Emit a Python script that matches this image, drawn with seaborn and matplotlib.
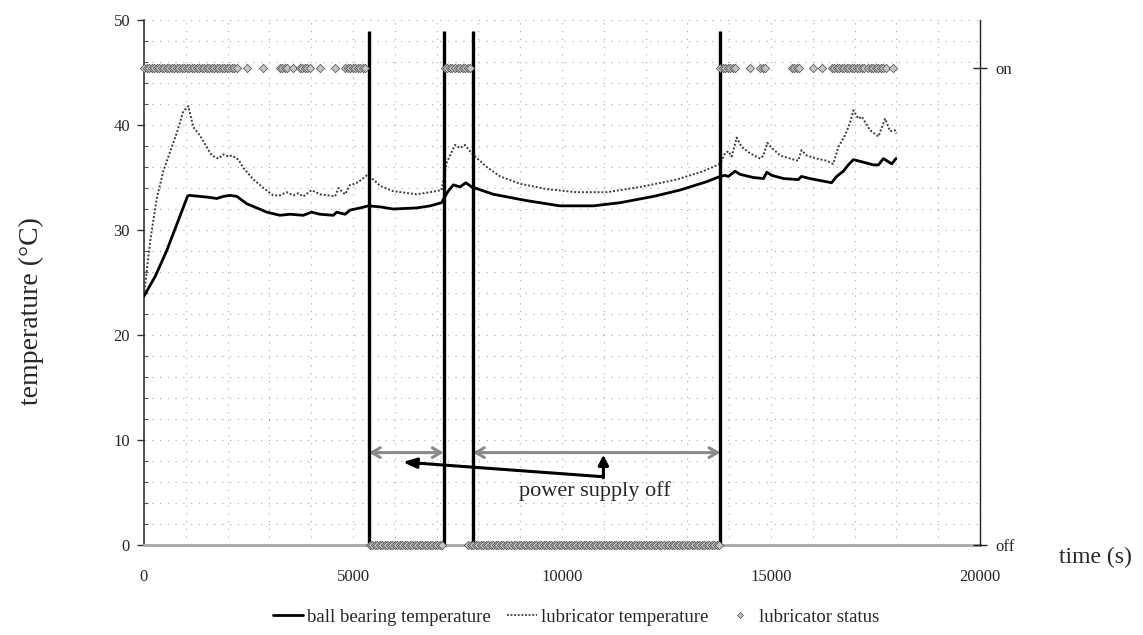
import numpy as np
import pandas as pd
import matplotlib
matplotlib.use("Agg")
import matplotlib.pyplot as plt
import seaborn as sns
from matplotlib.lines import Line2D

# ---------------- data ----------------
bb_time = [0, 270, 540, 800, 1040, 1080, 1340, 1580, 1740, 1900, 2060, 2220, 2460, 2700,
           2940, 3250, 3490, 3810, 4010, 4210, 4530, 4610, 4810, 4930, 5170, 5370, 5650,
           5960, 6520, 6850, 7120, 7260, 7400, 7560, 7700, 7840, 8360, 9150, 9950, 10750,
           11390, 12190, 12820, 13460, 13780, 13900, 13980, 14140, 14260, 14580, 14820,
           14900, 15020, 15300, 15650, 15730, 15930, 16450, 16570, 16730, 16850, 16970,
           17170, 17450, 17570, 17690, 17890, 17990]
bb_temp = [23.7, 25.6, 28.0, 30.7, 33.2, 33.3, 33.2, 33.1, 33.0, 33.2, 33.3, 33.2, 32.5, 32.1,
           31.7, 31.4, 31.5, 31.4, 31.7, 31.5, 31.4, 31.7, 31.5, 31.9, 32.1, 32.3, 32.2,
           32.0, 32.1, 32.3, 32.6, 33.6, 34.3, 34.1, 34.5, 34.1, 33.4, 32.8, 32.3, 32.3,
           32.6, 33.2, 33.8, 34.6, 35.1, 35.2, 35.1, 35.6, 35.3, 35.0, 34.9,
           35.5, 35.2, 34.9, 34.8, 35.1, 34.9, 34.5, 35.1, 35.6, 36.2, 36.7,
           36.5, 36.2, 36.2, 36.8, 36.3, 36.8]

lub_time = [0, 150, 300, 460, 780, 940, 1060, 1180, 1340, 1500, 1620, 1780, 1900, 2020,
            2100, 2260, 2380, 2620, 2860, 3090, 3250, 3410, 3570, 3690, 3810, 4010, 4210,
            4410, 4570, 4650, 4810, 4930, 5050, 5170, 5330, 5490, 5650, 5960, 6520, 6840,
            7120, 7240, 7440, 7560, 7680, 7800, 7920, 8200, 8520, 9000, 9630, 10350, 11070,
            11870, 12740, 13380, 13780, 13900, 13980, 14060, 14180, 14300, 14500, 14740,
            14820, 14910, 15020, 15220, 15460, 15650, 15730, 15850, 16090, 16330, 16490,
            16610, 16770, 16890, 16970, 17090, 17170, 17370, 17570, 17730, 17850, 17970, 18000]
lub_temp = [23.8, 29.0, 32.9, 35.6, 39.2, 41.3, 41.8, 39.8, 39.0, 37.9, 37.1, 36.8, 37.2, 37.0,
            37.1, 36.7, 35.9, 34.8, 34.0, 33.3, 33.3, 33.6, 33.3, 33.5, 33.2, 33.8, 33.4,
            33.3, 33.2, 34.0, 33.4, 34.3, 34.4, 34.7, 35.2, 34.8, 34.2, 33.7, 33.4, 33.6,
            33.8, 36.4, 38.1, 37.8, 38.1, 37.5, 37.0, 36.0, 35.1, 34.4, 33.9, 33.6, 33.6,
            34.1, 34.8, 35.6, 36.3, 37.3, 37.5, 37.0, 38.8, 37.9, 37.3, 36.8,
            37.1, 38.3, 37.8, 37.1, 36.8, 36.6, 37.6, 37.1, 36.8, 36.6, 36.3,
            37.9, 39.0, 40.2, 41.4, 40.6, 40.8, 39.5, 38.9, 40.6, 39.4, 39.5, 39.2]

# lubricator status logged every 60 s, given as runs (start, end, state)
status_sample_s = 60
status_run_start = [0, 2460, 2850, 3250, 3570, 3730, 4210, 4570, 4810, 7200, 13780, 14500,
                    14740, 15500, 16010, 16210, 16450, 17330, 17930, 5400, 7760]
status_run_end = [2250, 2460, 2850, 3450, 3570, 4010, 4210, 4570, 5330, 7840, 14180, 14500,
                  14900, 15730, 16010, 16210, 17250, 17770, 17930, 7160, 13800]
status_run_state = [1, 1, 1, 1, 1, 1, 1, 1, 1, 1, 1, 1, 1, 1, 1, 1, 1, 1, 1, 0, 0]

# power supply switched off / on (s)
power_off_start = [5380, 7870]
power_off_end = [7170, 13790]

x_ticks = [0, 5000, 10000, 15000, 20000]
y_ticks = [0, 10, 20, 30, 40, 50]
status_labels = ["off", "on"]

# ---------------- frames ----------------
bb_df = pd.DataFrame({"time": bb_time, "temp": bb_temp})
lub_df = pd.DataFrame({"time": lub_time, "temp": lub_temp})
st_t, st_v = [], []
for s, e, v in zip(status_run_start, status_run_end, status_run_state):
    ts = np.arange(s, e + 1, status_sample_s)
    st_t.extend(ts.tolist())
    st_v.extend([v] * len(ts))
status_df = pd.DataFrame({"time": st_t, "status": st_v})

# ---------------- style ----------------
sns.set_style("white")
plt.rcParams["font.family"] = ["Liberation Serif", "DejaVu Serif"]

fig = plt.figure(figsize=(11.43, 6.35), dpi=100)
ax = fig.add_axes([144 / 1143, 1 - 545 / 635, (980 - 144) / 1143, (545 - 20) / 635])

sns.lineplot(data=lub_df, x="time", y="temp", ax=ax, color="#3c3c3c", lw=1.4,
             linestyle=(0, (1, 1)), zorder=3)
sns.lineplot(data=bb_df, x="time", y="temp", ax=ax, color="black", lw=2.0, zorder=4)

ax.set_xlim(0, 20000)
ax.set_ylim(0, 50)
ax.set_xticks(x_ticks)
ax.set_xticklabels([str(v) for v in x_ticks])
ax.set_yticks(y_ticks)
ax.set_xticks(np.arange(0, 20001, 1000), minor=True)
ax.set_yticks(np.arange(0, 51, 2), minor=True)
ax.grid(which="both", color="#a8a8a8", linestyle=(0, (1, 6)), lw=0.8)
ax.set_xlabel("")
ax.set_ylabel("")
for s in ["top", "right"]:
    ax.spines[s].set_visible(False)
ax.spines["left"].set_color("#333333")
ax.spines["left"].set_linewidth(1.2)
ax.spines["bottom"].set_color("#a8a8a8")
ax.spines["bottom"].set_linewidth(2.0)
ax.tick_params(axis="x", which="major", direction="out", length=5, width=1,
               color="#555555", pad=12, labelsize=12)
ax.tick_params(axis="x", which="minor", length=0)
ax.tick_params(axis="y", which="major", direction="out", length=5, width=1,
               color="#333333", pad=5, labelsize=12)
ax.tick_params(axis="y", which="minor", direction="in", length=3, width=0.8, color="#555555")

# power-off boundaries
ax.vlines(power_off_start + power_off_end, 0, 49, color="black", lw=2.4, zorder=5)

# double-headed span arrows
for s, e in zip(power_off_start, power_off_end):
    ax.annotate("", xy=(e, 8.8), xytext=(s, 8.8),
                arrowprops=dict(arrowstyle="<->,head_length=0.6,head_width=0.35",
                                color="#8a8a8a", lw=2.2, shrinkA=0, shrinkB=0), zorder=4)

# pointer arrows and annotation
ax.annotate("", xy=(6190, 7.9), xytext=(10990, 6.5),
            arrowprops=dict(arrowstyle="-|>,head_length=0.8,head_width=0.3",
                            color="black", lw=2.2, shrinkA=0, shrinkB=0), zorder=6)
ax.annotate("", xy=(10990, 8.6), xytext=(10990, 6.4),
            arrowprops=dict(arrowstyle="-|>,head_length=0.6,head_width=0.3",
                            color="black", lw=2.2, shrinkA=0, shrinkB=0), zorder=6)
ax.text(10790, 5.1, "power supply off", ha="center", va="center", fontsize=16)

# status on secondary axis
ax2 = ax.twinx()
sns.scatterplot(data=status_df, x="time", y="status", ax=ax2, marker="D", s=18,
                facecolor="#c4c4c4", edgecolor="#4a4a4a", linewidth=0.5,
                clip_on=False, zorder=6, legend=False)
ax2.set_ylim(0, 50 / 45.4)
ax2.set_xlim(0, 20000)
ax2.set_yticks([0, 1])
ax2.set_yticklabels(status_labels)
ax2.set_ylabel("")
for s in ["top", "left", "bottom"]:
    ax2.spines[s].set_visible(False)
ax2.spines["right"].set_color("#222222")
ax2.spines["right"].set_linewidth(1.0)
ax2.tick_params(axis="y", direction="inout", length=10, width=1, color="#222222",
                pad=6, labelsize=12)
ax2.grid(False)

# axis titles
fig.text(31 / 1143, 1 - 311 / 635, "temperature (°C)", rotation=90, ha="center",
         va="center", fontsize=20)
fig.text(1095 / 1143, 1 - 557 / 635, "time (s)", ha="center", va="center", fontsize=17)

# legend
handles = [
    Line2D([], [], color="black", lw=2.0),
    Line2D([], [], color="#3c3c3c", lw=1.3, linestyle=(0, (1, 1))),
    Line2D([], [], color="none", marker="D", markersize=3, markerfacecolor="#c4c4c4",
           markeredgecolor="#4a4a4a", markeredgewidth=0.5),
]
labels = ["ball bearing temperature", "lubricator temperature", "lubricator status"]
fig.legend(handles, labels, loc="center", bbox_to_anchor=(576 / 1143, 1 - 617 / 635),
           ncol=3, frameon=False, fontsize=13.5, handlelength=1.6, handletextpad=0.2,
           columnspacing=0.9)

fig.savefig("out.png", dpi=100)
